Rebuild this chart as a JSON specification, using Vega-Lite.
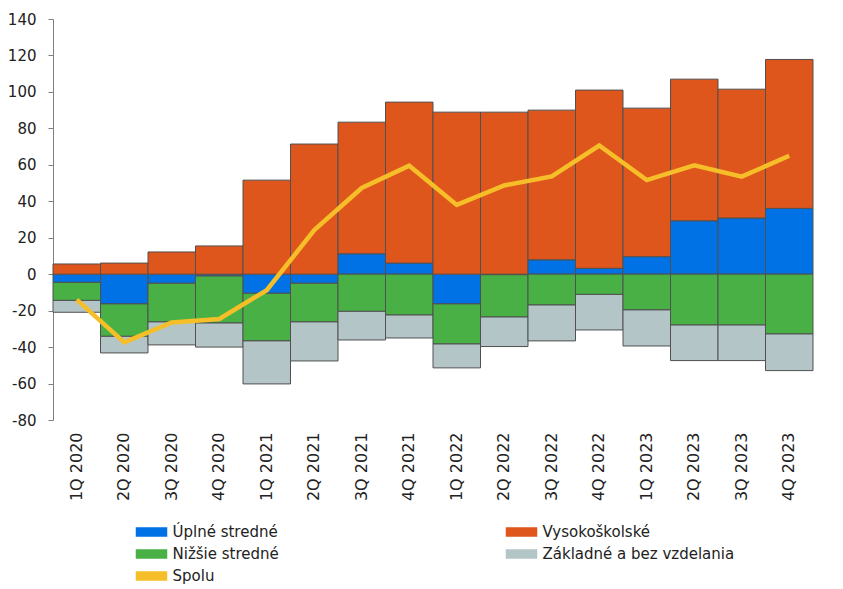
{
  "$schema": "https://vega.github.io/schema/vega-lite/v6.json",
  "width": 760,
  "height": 401,
  "autosize": {"type": "none"},
  "padding": {"left": 53, "top": 19, "right": 30, "bottom": 169},
  "background": "white",
  "config": {
    "view": {"stroke": null},
    "font": "DejaVu Sans",
    "axisY": {"title": null, "values": [-80,-60,-40,-20,0,20,40,60,80,100,120,140], "labelOverlap": false, "labelExpr": "toString(datum.value)", "grid": false, "tickSize": 5, "domainColor": "#808080", "tickColor": "#808080", "labelFontSize": 15, "labelColor": "#222", "labelPadding": 12}
  },
  "datasets": {
    "bars": [
      {"q":"1Q 2020","kat":"Úplné stredné","v":-4.5,"p":1},{"q":"1Q 2020","kat":"Nižšie stredné","v":-9.9,"p":2},{"q":"1Q 2020","kat":"Základné a bez vzdelania","v":-6.5,"p":3},{"q":"1Q 2020","kat":"Vysokoškolské","v":5.6,"p":4},
      {"q":"2Q 2020","kat":"Úplné stredné","v":-16.3,"p":1},{"q":"2Q 2020","kat":"Nižšie stredné","v":-17.8,"p":2},{"q":"2Q 2020","kat":"Základné a bez vzdelania","v":-9.1,"p":3},{"q":"2Q 2020","kat":"Vysokoškolské","v":6.1,"p":4},
      {"q":"3Q 2020","kat":"Úplné stredné","v":-5.0,"p":1},{"q":"3Q 2020","kat":"Nižšie stredné","v":-21.2,"p":2},{"q":"3Q 2020","kat":"Základné a bez vzdelania","v":-12.6,"p":3},{"q":"3Q 2020","kat":"Vysokoškolské","v":12.2,"p":4},
      {"q":"4Q 2020","kat":"Úplné stredné","v":-1.0,"p":1},{"q":"4Q 2020","kat":"Nižšie stredné","v":-25.8,"p":2},{"q":"4Q 2020","kat":"Základné a bez vzdelania","v":-13.2,"p":3},{"q":"4Q 2020","kat":"Vysokoškolské","v":15.5,"p":4},
      {"q":"1Q 2021","kat":"Úplné stredné","v":-10.5,"p":1},{"q":"1Q 2021","kat":"Nižšie stredné","v":-26.1,"p":2},{"q":"1Q 2021","kat":"Základné a bez vzdelania","v":-23.6,"p":3},{"q":"1Q 2021","kat":"Vysokoškolské","v":51.6,"p":4},
      {"q":"2Q 2021","kat":"Úplné stredné","v":-5.0,"p":1},{"q":"2Q 2021","kat":"Nižšie stredné","v":-21.2,"p":2},{"q":"2Q 2021","kat":"Základné a bez vzdelania","v":-21.4,"p":3},{"q":"2Q 2021","kat":"Vysokoškolské","v":71.4,"p":4},
      {"q":"3Q 2021","kat":"Úplné stredné","v":11.2,"p":1},{"q":"3Q 2021","kat":"Nižšie stredné","v":-20.4,"p":2},{"q":"3Q 2021","kat":"Základné a bez vzdelania","v":-15.7,"p":3},{"q":"3Q 2021","kat":"Vysokoškolské","v":72.2,"p":4},
      {"q":"4Q 2021","kat":"Úplné stredné","v":6.1,"p":1},{"q":"4Q 2021","kat":"Nižšie stredné","v":-22.4,"p":2},{"q":"4Q 2021","kat":"Základné a bez vzdelania","v":-12.6,"p":3},{"q":"4Q 2021","kat":"Vysokoškolské","v":88.3,"p":4},
      {"q":"1Q 2022","kat":"Úplné stredné","v":-16.3,"p":1},{"q":"1Q 2022","kat":"Nižšie stredné","v":-22.0,"p":2},{"q":"1Q 2022","kat":"Základné a bez vzdelania","v":-13.1,"p":3},{"q":"1Q 2022","kat":"Vysokoškolské","v":88.9,"p":4},
      {"q":"2Q 2022","kat":"Úplné stredné","v":-0.3,"p":1},{"q":"2Q 2022","kat":"Nižšie stredné","v":-23.2,"p":2},{"q":"2Q 2022","kat":"Základné a bez vzdelania","v":-16.2,"p":3},{"q":"2Q 2022","kat":"Vysokoškolské","v":88.9,"p":4},
      {"q":"3Q 2022","kat":"Úplné stredné","v":7.9,"p":1},{"q":"3Q 2022","kat":"Nižšie stredné","v":-16.9,"p":2},{"q":"3Q 2022","kat":"Základné a bez vzdelania","v":-19.7,"p":3},{"q":"3Q 2022","kat":"Vysokoškolské","v":82.1,"p":4},
      {"q":"4Q 2022","kat":"Úplné stredné","v":3.2,"p":1},{"q":"4Q 2022","kat":"Nižšie stredné","v":-11.1,"p":2},{"q":"4Q 2022","kat":"Základné a bez vzdelania","v":-19.5,"p":3},{"q":"4Q 2022","kat":"Vysokoškolské","v":97.8,"p":4},
      {"q":"1Q 2023","kat":"Úplné stredné","v":9.6,"p":1},{"q":"1Q 2023","kat":"Nižšie stredné","v":-19.6,"p":2},{"q":"1Q 2023","kat":"Základné a bez vzdelania","v":-19.8,"p":3},{"q":"1Q 2023","kat":"Vysokoškolské","v":81.5,"p":4},
      {"q":"2Q 2023","kat":"Úplné stredné","v":29.3,"p":1},{"q":"2Q 2023","kat":"Nižšie stredné","v":-27.9,"p":2},{"q":"2Q 2023","kat":"Základné a bez vzdelania","v":-19.5,"p":3},{"q":"2Q 2023","kat":"Vysokoškolské","v":77.7,"p":4},
      {"q":"3Q 2023","kat":"Úplné stredné","v":30.8,"p":1},{"q":"3Q 2023","kat":"Nižšie stredné","v":-27.9,"p":2},{"q":"3Q 2023","kat":"Základné a bez vzdelania","v":-19.5,"p":3},{"q":"3Q 2023","kat":"Vysokoškolské","v":70.7,"p":4},
      {"q":"4Q 2023","kat":"Úplné stredné","v":36.1,"p":1},{"q":"4Q 2023","kat":"Nižšie stredné","v":-32.8,"p":2},{"q":"4Q 2023","kat":"Základné a bez vzdelania","v":-20.1,"p":3},{"q":"4Q 2023","kat":"Vysokoškolské","v":81.7,"p":4}
    ],
    "spolu": [
      {"q":"1Q 2020","v":-14.0},{"q":"2Q 2020","v":-37.4},{"q":"3Q 2020","v":-26.5},{"q":"4Q 2020","v":-24.6},
      {"q":"1Q 2021","v":-8.8},{"q":"2Q 2021","v":24.2},{"q":"3Q 2021","v":47.3},{"q":"4Q 2021","v":59.5},
      {"q":"1Q 2022","v":38.0},{"q":"2Q 2022","v":48.7},{"q":"3Q 2022","v":53.6},{"q":"4Q 2022","v":70.6},
      {"q":"1Q 2023","v":51.6},{"q":"2Q 2023","v":59.7},{"q":"3Q 2023","v":53.5},{"q":"4Q 2023","v":65.0}
    ]
  },
  "encoding": {
    "x": {
      "field": "q", "type": "nominal", "sort": null,
      "scale": {"paddingInner": 0, "paddingOuter": 0},
      "axis": {"title": null, "labelAngle": -90, "labelFontSize": 16, "labelColor": "#222", "ticks": false, "domain": false, "labelPadding": 12}
    }
  },
  "layer": [
    {
      "data": {"name": "bars"},
      "mark": {"type": "bar", "stroke": "#505050", "strokeWidth": 1},
      "encoding": {
        "y": {
          "field": "v", "type": "quantitative", "stack": "zero",
          "scale": {"domain": [-80, 140], "nice": false},
          "axis": {"values": [-80,-60,-40,-20,0,20,40,60,80,100,120,140], "tickCount": 12}
        },
        "order": {"field": "p", "type": "quantitative"},
        "color": {
          "field": "kat", "type": "nominal",
          "scale": {
            "domain": ["Úplné stredné", "Nižšie stredné", "Spolu", "Vysokoškolské", "Základné a bez vzdelania"],
            "range": ["#0072E5", "#48B045", "#F6BE28", "#DF561C", "#B4C5C7"]
          },
          "legend": {
            "orient": "none", "legendX": 89.5, "legendY": 504, "columns": 2, "title": null,
            "symbolSize": 256, "labelFontSize": 15, "labelColor": "#222", "labelOffset": 12, "labelLimit": 400,
            "rowPadding": 5, "columnPadding": 224, "padding": 0,
            "symbolType": "M-1.875,-0.5H1.875V0.5H-1.875Z",
            "encode": {
              "symbols": {
                "update": {
                  "shape": {"signal": "datum.value === 'Spolu' ? 'M-1.875,-0.19H1.875V0.19H-1.875Z' : 'M-1.875,-0.5H1.875V0.5H-1.875Z'"},
                  "stroke": {"signal": "datum.value === 'Spolu' ? 'transparent' : '#606060'"},
                  "strokeWidth": {"value": 1},
                  "fill": {"signal": "scale('color', datum.value)"},
                  "opacity": {"value": 1},
                  "fillOpacity": {"value": 1}
                }
              }
            }
          }
        }
      }
    },
    {
      "data": {"name": "spolu"},
      "mark": {"type": "line", "strokeWidth": 4.5},
      "encoding": {
        "y": {"field": "v", "type": "quantitative", "axis": {"values": [-80,-60,-40,-20,0,20,40,60,80,100,120,140], "tickCount": 12}},
        "color": {"datum": "Spolu"}
      }
    }
  ]
}
